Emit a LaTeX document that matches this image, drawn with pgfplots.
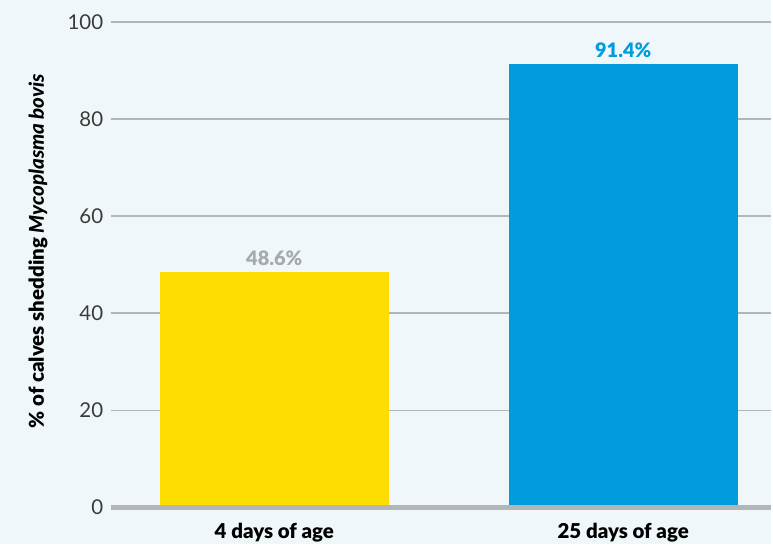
\documentclass[border=0pt]{standalone}
\usepackage{pgfplots}
\pgfplotsset{compat=1.18}
\usepackage{fontspec}
\setmainfont{Lato}
\newfontfamily\heavy{Lato Black}
\definecolor{bg}{HTML}{F0F7FA}
\definecolor{gridc}{HTML}{B3B5B8}
\definecolor{yel}{HTML}{FFDD00}
\definecolor{blu}{HTML}{009CDE}
\definecolor{lbl}{HTML}{A7A9AC}
\definecolor{tickc}{HTML}{3A3A3A}
\begin{document}
\begin{tikzpicture}
\fill[bg] (-111pt,-37pt) rectangle (662pt,509pt);
\begin{axis}[
  scale only axis, width=662pt, height=487pt,
  xmin=-0.469, xmax=1.423, ymin=0, ymax=100,
  axis line style={draw=none},
  major tick length=0pt,
  ytick={20,40,60,80,100},
  extra y ticks={0},
  extra y tick style={grid=none},
  ymajorgrids, grid style={gridc, line width=1.6pt},
  xtick={0,1},
  xticklabels={4 days of age, 25 days of age},
  /pgf/number format/assume math mode=true,
  yticklabel style={font=\fontsize{20.5}{20.5}\selectfont, text=tickc, xshift=-4pt},
  xticklabel style={font=\heavy\fontsize{20.5}{20.5}\selectfont, text=black, yshift=-12pt},
  ylabel={\heavy\fontsize{20.5}{20.5}\selectfont \% of calves shedding \textit{Mycoplasma bovis}},
  ylabel style={at={(axis description cs:-0.11,0.528)}, anchor=center},
  clip=false,
]
\addplot[ybar, bar width=0.657, bar shift=0pt, fill=yel, draw=none,
  nodes near coords={48.6\%},
  every node near coord/.append style={font=\heavy\fontsize{20}{20}\selectfont, text=lbl, yshift=2pt}]
  coordinates {(0,48.6)};
\addplot[ybar, bar width=0.657, bar shift=0pt, fill=blu, draw=none,
  nodes near coords={91.4\%},
  every node near coord/.append style={font=\heavy\fontsize{20}{20}\selectfont, text=blu, yshift=2pt}]
  coordinates {(1,91.4)};
\draw[gridc, line width=4.5pt] (axis cs:-0.469,0) -- (axis cs:1.423,0);
\end{axis}
\end{tikzpicture}
\end{document}
